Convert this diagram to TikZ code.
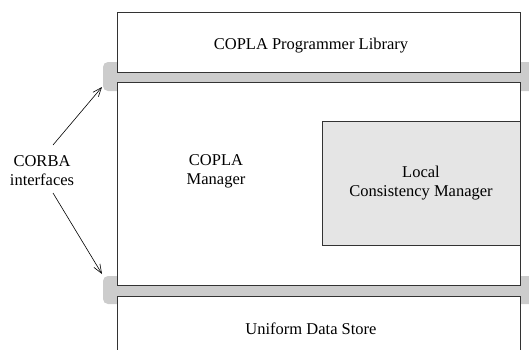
\documentclass[tikz,border=0pt]{standalone}
\usepackage{fontspec}
\setmainfont{Liberation Serif}
\usetikzlibrary{arrows.meta}
\begin{document}
\begin{tikzpicture}[x=1pt,y=-1pt,
  layer/.style={draw=black!80,line width=0.9pt,fill=white},
  bus/.style={fill=black!20,rounded corners=5pt},
  inner/.style={draw=black!80,line width=0.9pt,fill=black!10},
  lbl/.style={font=\fontsize{16.5}{19}\selectfont,align=center,inner sep=0pt},
  pointer/.style={line width=0.6pt,-{Straight Barb[length=9pt,width=7pt]}}]
\useasboundingbox (0,0) rectangle (529,349);
\clip (0,0) rectangle (529,349);
% CORBA interface bars
\fill[bus] (103,62) rectangle (540,91);
\fill[bus] (103,276) rectangle (540,304);
% layers
\draw[layer] (117,12) rectangle (520,72);
\node[lbl] (lib) at (311,46) {COPLA Programmer Library};
\draw[layer] (117,82) rectangle (520,285);
\node[lbl] (mgr) at (216,171) {COPLA\\Manager};
\draw[inner] (322,121) rectangle (520,245);
\node[lbl] (lcm) at (421,183) {Local\\Consistency Manager};
\draw[layer] (117,296) rectangle (520,365);
\node[lbl] (uds) at (311,329) {Uniform Data Store};
% label and pointers
\node[lbl] (corba) at (42,171) {CORBA\\interfaces};
\coordinate (s1) at (53,145);
\coordinate (s2) at (53,193);
\coordinate (t1) at (102,87);
\coordinate (t2) at (102,274);
\draw[pointer] (s1) -- (t1);
\draw[pointer] (s2) -- (t2);
\end{tikzpicture}
\end{document}
